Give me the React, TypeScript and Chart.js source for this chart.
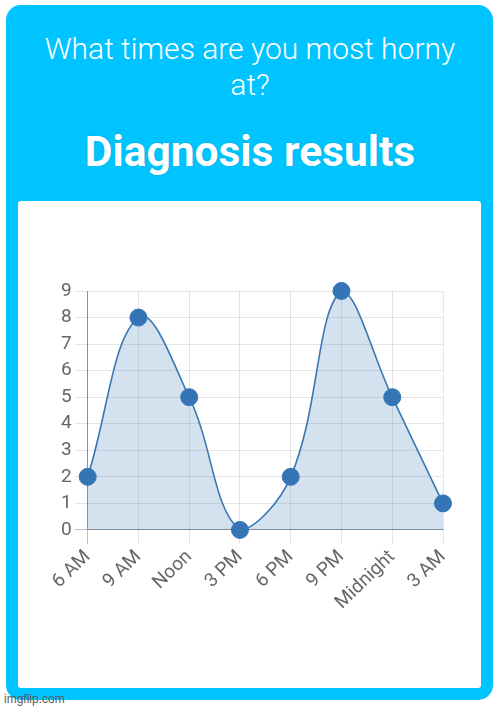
import React, { useEffect, useRef } from "react";
import { Chart, registerables } from "chart.js";

Chart.register(...registerables);

const categories = ["6 AM", "9 AM", "Noon", "3 PM", "6 PM", "9 PM", "Midnight", "3 AM"];
const values = [2, 8, 5, 0, 2, 9, 5, 1];
const yMin = 0;
const yMax = 9;
const yStep = 1;

const titleLine = "What times are you most horny at?";
const subtitle = "Diagnosis results";

function LineChart() {
  const ref = useRef<HTMLCanvasElement | null>(null);
  useEffect(() => {
    if (!ref.current) return;
    const dark = "rgba(0,0,0,0.25)";
    const light = "rgba(0,0,0,0.1)";
    const chart = new Chart(ref.current, {
      type: "line",
      data: {
        labels: categories,
        datasets: [
          {
            data: values,
            borderColor: "#3a78b5",
            borderWidth: 1.6,
            backgroundColor: "rgba(52,117,181,0.21)",
            fill: "origin",
            tension: 0.4,
            pointRadius: 8.5,
            pointHoverRadius: 8.5,
            pointBackgroundColor: "#3575b6",
            pointBorderColor: "#3575b6",
            pointBorderWidth: 1,
            clip: false,
          },
        ],
      },
      options: {
        responsive: false,
        animation: false,
        layout: { padding: { left: 40, right: 38, top: 90, bottom: 72 } },
        plugins: { legend: { display: false }, tooltip: { enabled: false }, title: { display: false } },
        scales: {
          x: {
            grid: {
              color: (c: any) => (c.index === 0 ? dark : light),
              lineWidth: 1,
              tickLength: 14,
            },
            border: { display: true, color: dark },
            ticks: {
              color: "#666",
              font: { family: "Roboto", size: 19 },
              minRotation: 44,
              maxRotation: 44,
              autoSkip: false,
              padding: 2,
            },
          },
          y: {
            min: yMin,
            max: yMax,
            grid: {
              color: (c: any) => (c.index === 0 ? dark : light),
              lineWidth: 1,
              tickLength: 13,
            },
            border: { display: true, color: dark },
            ticks: {
              stepSize: yStep,
              autoSkip: false,
              color: "#666",
              font: { family: "Roboto", size: 19 },
              padding: 3,
            },
          },
        },
      },
    });
    return () => chart.destroy();
  }, []);
  return <canvas ref={ref} width={463} height={487} style={{ display: "block" }} />;
}

export default function App() {
  return (
    <div
      style={{
        position: "absolute",
        left: 0,
        top: 0,
        width: 500,
        height: 708,
        background: "#fff",
        fontFamily: "Roboto, sans-serif",
        overflow: "hidden",
      }}
    >
      <div
        style={{
          position: "absolute",
          left: 6,
          top: 5,
          width: 487,
          height: 695,
          background: "#00c4ff",
          borderRadius: 15,
        }}
      />
      <div
        style={{
          position: "absolute",
          left: 30,
          top: 31,
          width: 440,
          textAlign: "center",
          color: "#fff",
          fontWeight: 300,
          fontSize: 30,
          lineHeight: "36px",
        }}
      >
        {titleLine}
      </div>
      <div
        style={{
          position: "absolute",
          left: 0,
          top: 127,
          width: 500,
          textAlign: "center",
          color: "#fff",
          fontWeight: 700,
          fontSize: 42.5,
          lineHeight: "50px",
          textShadow: "0 0 2px rgba(0,0,0,0.15)",
        }}
      >
        {subtitle}
      </div>
      <div
        style={{
          position: "absolute",
          left: 18,
          top: 201,
          width: 463,
          height: 487,
          background: "#fff",
          borderRadius: 3,
          overflow: "hidden",
        }}
      >
        <LineChart />
      </div>
      <div
        style={{
          position: "absolute",
          left: 4,
          top: 692,
          fontFamily: "Arial, 'Liberation Sans', sans-serif",
          fontSize: 12,
          color: "#5a5a5a",
        }}
      >
        imgflip.com
      </div>
    </div>
  );
}
